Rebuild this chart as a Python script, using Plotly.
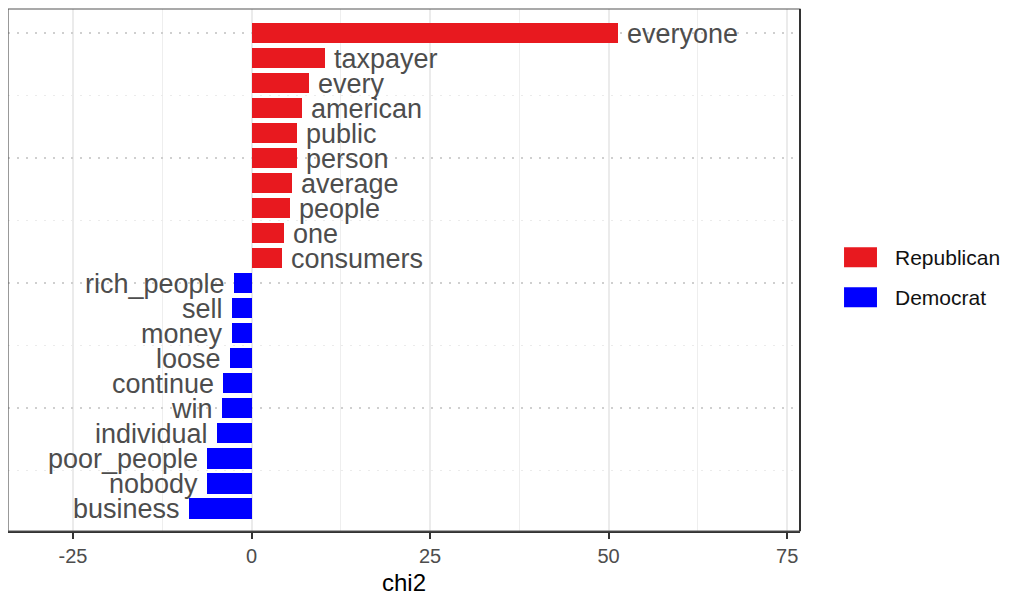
import plotly.graph_objects as go

# words, top to bottom
words = ["everyone", "taxpayer", "every", "american", "public", "person",
         "average", "people", "one", "consumers",
         "rich_people", "sell", "money", "loose", "continue", "win",
         "individual", "poor_people", "nobody", "business"]
chi2 = [51.3, 10.3, 8.0, 7.1, 6.3, 6.3, 5.6, 5.4, 4.6, 4.3,
        -2.5, -2.8, -2.8, -3.0, -4.0, -4.2, -4.8, -6.3, -6.3, -8.7]
party = ["Republican"] * 10 + ["Democrat"] * 10

parties = ["Republican", "Democrat"]
colors = {"Republican": "#E8191F", "Democrat": "#0000FF"}

x_ticks = [-25, 0, 25, 50, 75]
x_tick_labels = ["-25", "0", "25", "50", "75"]
y_major = [5, 10, 15, 20]
y_minor = [2.5, 7.5, 12.5, 17.5]

n = len(words)
pos = [n - i for i in range(n)]

fig = go.Figure()
for p in parties:
    idx = [i for i in range(n) if party[i] == p]
    fig.add_trace(go.Bar(
        x=[chi2[i] for i in idx],
        y=[pos[i] for i in idx],
        orientation="h",
        width=0.82,
        marker=dict(color=colors[p], line=dict(width=0)),
        name=p,
        showlegend=False,
    ))

# word labels beside the bars
for i in range(n):
    right = chi2[i] > 0
    fig.add_annotation(
        x=chi2[i], y=pos[i], xref="x", yref="y",
        text=words[i], showarrow=False,
        xanchor="left" if right else "right", yanchor="middle",
        xshift=7 if right else -7, yshift=-1,
        font=dict(family="Liberation Sans, Arial", size=27, color="#4d4d4d"),
    )

# hand-made legend
for k, p in enumerate(parties):
    y0 = 0.5438 - k * 0.0768
    fig.add_shape(type="rect", xref="paper", yref="paper",
                  x0=1.0556, x1=1.0972, y0=y0 - 0.0383, y1=y0,
                  fillcolor=colors[p], line=dict(width=0))
    fig.add_annotation(xref="paper", yref="paper", x=1.117, y=y0 - 0.0192,
                       text=p, showarrow=False, xanchor="left", yanchor="middle",
                       font=dict(family="Liberation Sans, Arial", size=21, color="#111"))

# panel border
fig.add_shape(type="rect", xref="paper", yref="paper", x0=0, x1=1, y0=0, y1=1,
              line=dict(color="#555", width=1.2), layer="above")
fig.add_shape(type="line", xref="paper", yref="paper", x0=1, x1=1, y0=0, y1=1,
              line=dict(color="#333", width=2), layer="above")

fig.update_layout(
    width=1001, height=591,
    margin=dict(l=0, r=209, t=1, b=68),
    paper_bgcolor="white", plot_bgcolor="white",
    bargap=0,
    font=dict(family="Liberation Sans, Arial"),
    xaxis=dict(
        range=[-34.1, 76.8],
        tickvals=x_ticks, ticktext=x_tick_labels,
        ticks="outside", ticklen=6, tickwidth=2, tickcolor="#333",
        tickfont=dict(size=20, color="#4d4d4d"),
        showgrid=True, gridcolor="#ebebeb", gridwidth=1.6,
        minor=dict(dtick=12.5, tick0=0, showgrid=True, gridcolor="#eeeeee", gridwidth=1.2),
        zeroline=False,
        showline=True, linecolor="#333", linewidth=2,
        title=dict(text="chi2", font=dict(size=24, color="#000"), standoff=8),
    ),
    yaxis=dict(
        range=[0.093, 20.95],
        tickvals=y_major, showticklabels=False, ticks="",
        showgrid=True, gridcolor="#cfcfcf", gridwidth=1.8, griddash="2px,7px",
        minor=dict(tickvals=y_minor, showgrid=True, gridcolor="#ebebeb", gridwidth=1),
        zeroline=False,
    ),
)

fig.write_html("out.html")
